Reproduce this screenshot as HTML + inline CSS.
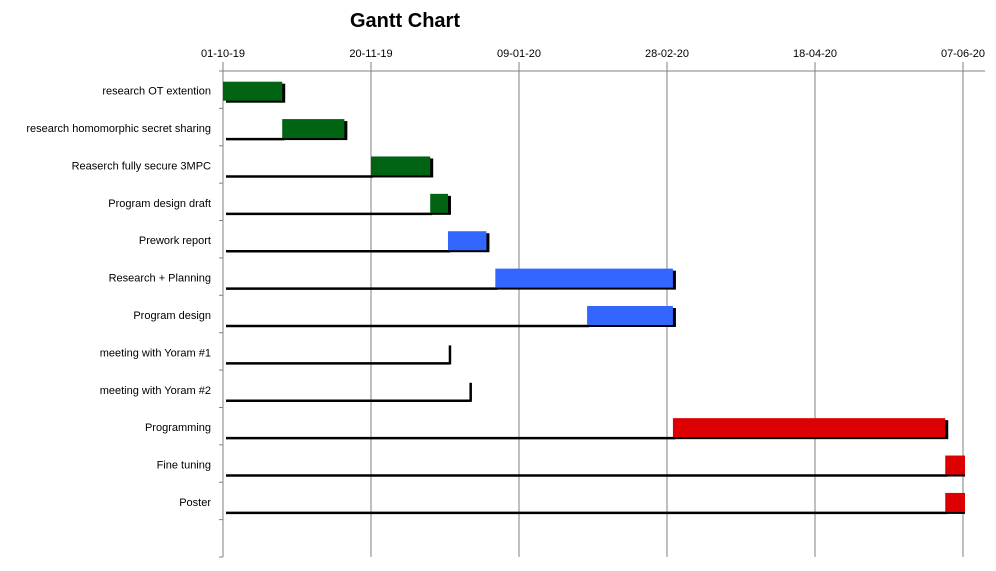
<!DOCTYPE html>
<html><head><meta charset="utf-8"><style>
body{margin:0;background:#fff;width:996px;height:566px;overflow:hidden;font-family:"Liberation Sans",sans-serif}
</style></head><body>
<svg id="c" width="996" height="566" xmlns="http://www.w3.org/2000/svg">
<text x="405" y="27" text-anchor="middle" font-size="20" font-weight="bold" fill="#000">Gantt Chart</text>
</svg>
<script>
const tasks=["research OT extention","research homomorphic secret sharing","Reaserch fully secure 3MPC","Program design draft","Prework report","Research + Planning","Program design","meeting with Yoram #1","meeting with Yoram #2","Programming","Fine tuning","Poster"];
const startDays=[0,20,50,70,76,92,123,76,83,152,244,244];
const durations=[20,21,20,6,13,60,29,0,0,92,7,7];
const colors=["#006414","#006414","#006414","#006414","#3366ff","#3366ff","#3366ff","#3366ff","#3366ff","#dd0000","#dd0000","#dd0000"];
const tickDays=[0,50,100,150,200,250];
const tickLabels=["01-10-19","20-11-19","09-01-20","28-02-20","18-04-20","07-06-20"];
const svgEl=document.getElementById('c');const NS="http://www.w3.org/2000/svg";
const x0=223,x1=963,maxDay=250,plotTop=71,plotBottom=557,nRows=13;
const band=(plotBottom-plotTop)/nRows;
function xs(d){return x0+(x1-x0)*d/maxDay;}
function yc(i){return plotTop+band*(i+0.5);}
function mk(t,a){const e=document.createElementNS(NS,t);for(const k in a)e.setAttribute(k,a[k]);svgEl.appendChild(e);return e;}
tickDays.forEach((d,i)=>{
 const l=mk('line',{x1:xs(d),x2:xs(d),y1:62,y2:plotBottom,stroke:'#808080','stroke-width':1});
 
 
 const t=mk('text',{x:xs(d),y:57,'text-anchor':'middle','font-size':11,fill:'#000'});t.textContent=tickLabels[i];
 
 
});
const ax=mk('line',{x1:x0,x2:985,y1:plotTop,y2:plotTop,stroke:'#808080','stroke-width':1});


const ay=mk('line',{x1:x0,x2:x0,y1:plotTop,y2:plotBottom,stroke:'#808080','stroke-width':1});


for(let i=0;i<=nRows;i++){const t=mk('line',{x1:x0-4,x2:x0,y1:plotTop+band*i,y2:plotTop+band*i,stroke:'#808080'});
 
 }
tasks.forEach((name,i)=>{
 const c=yc(i),bt=c-8,bh=19;
 const lab=mk('text',{x:211,y:c+5,'text-anchor':'end','font-size':11,fill:'#000'});lab.textContent=name;
 
 
 const s=xs(startDays[i]),e=xs(startDays[i]+durations[i]);
 if(startDays[i]>0){
  const base=mk('line',{x1:x0+3,x2:s+2,y1:bt+bh+1,y2:bt+bh+1,stroke:'#000','stroke-width':2.5});
  
  
  const v=mk('line',{x1:s+2,x2:s+2,y1:bt+2,y2:bt+bh+2,stroke:'#000','stroke-width':2.5});
  
  
 }
 if(durations[i]>0){
  const w=Math.min(e,965)-s;
  const sh=mk('rect',{x:s+3,y:bt+2,width:Math.max(0,Math.min(e+3,965)-s-3),height:bh,fill:'#000'});
  
  
  const r=mk('rect',{x:s,y:bt,width:w,height:bh,fill:colors[i]});
  
  
 }
});
</script>
</body></html>
